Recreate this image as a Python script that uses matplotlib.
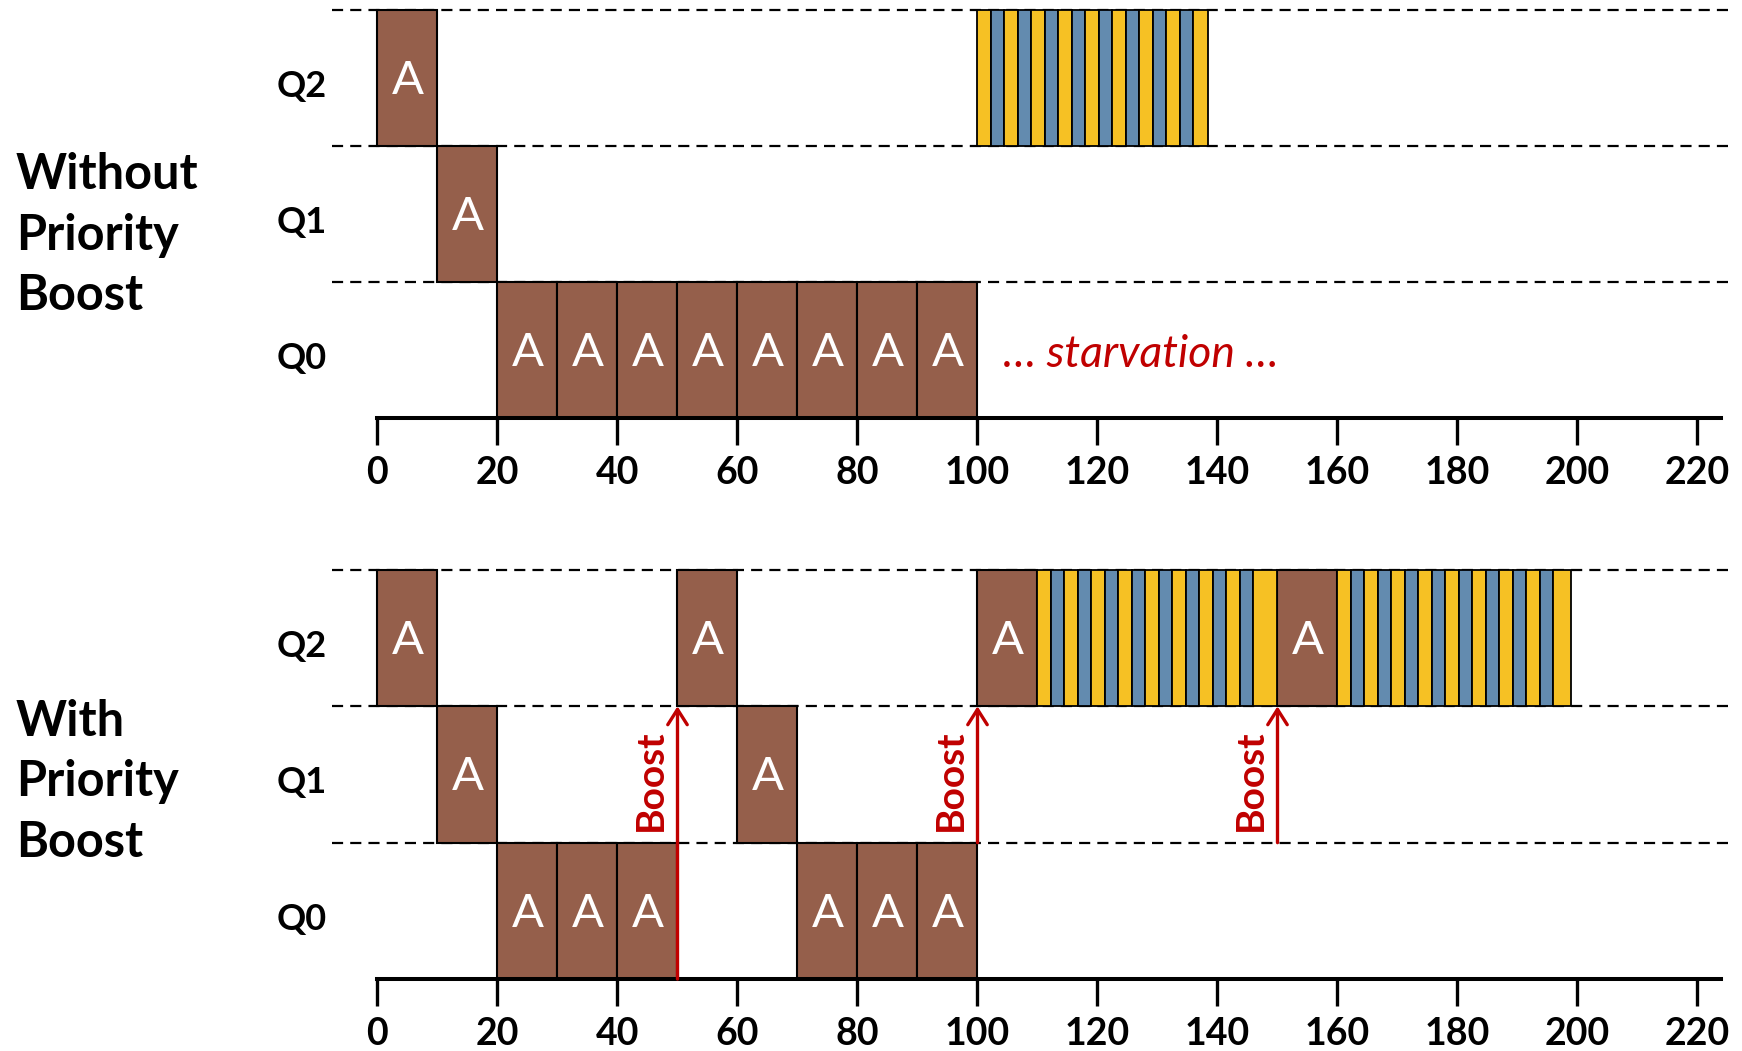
import matplotlib.pyplot as plt

# colours
BROWN = "#955F4B"
YELLOW = "#F6C124"
BLUE = "#638BAF"
RED = "#C00000"

plt.rcParams['font.family'] = ['Lato', 'DejaVu Sans']

queues = ["Q0", "Q1", "Q2"]
ticks = [0, 20, 40, 60, 80, 100, 120, 140, 160, 180, 200, 220]

# job A slices: (start, length, queue index)
top_a = [(0, 10, 2), (10, 10, 1),
         (20, 10, 0), (30, 10, 0), (40, 10, 0), (50, 10, 0),
         (60, 10, 0), (70, 10, 0), (80, 10, 0), (90, 10, 0)]
bottom_a = [(0, 10, 2), (10, 10, 1), (20, 10, 0), (30, 10, 0), (40, 10, 0),
            (50, 10, 2), (60, 10, 1), (70, 10, 0), (80, 10, 0), (90, 10, 0),
            (100, 10, 2), (150, 10, 2)]

# B/C interleaved slices (edges), all in Q2
top_bc = [[100, 102.3, 104.5, 106.8, 109, 111.3, 113.5, 115.8, 118, 120.3,
           122.5, 124.8, 127, 129.3, 131.5, 133.8, 136, 138.5]]
bottom_bc = [[110, 112.3, 114.5, 116.8, 119, 121.3, 123.5, 125.8, 128, 130.3,
              132.5, 134.8, 137, 139.3, 141.5, 143.8, 146, 150],
             [160, 162.3, 164.5, 166.8, 169, 171.3, 173.5, 175.8, 178, 180.3,
              182.5, 184.8, 187, 189.3, 191.5, 193.8, 196, 199]]

# boost arrows: (time, from row, to row)
boosts = [(50, 0, 2), (100, 1, 2), (150, 1, 2)]


def draw_panel(ax, slices_a, runs_bc):
    ax.set_xlim(-8, 226)
    ax.set_ylim(0, 3)
    # queue boundaries
    for y in [1, 2, 3]:
        ax.hlines(y, -7.5, 225.5, colors="black", linestyles=(0, (5, 3.2)),
                  linewidth=1.6, clip_on=False, zorder=1)
    for start, length, q in slices_a:
        ax.bar(start, 1, width=length, bottom=q, align="edge", color=BROWN,
               edgecolor="black", linewidth=1.5, zorder=2, clip_on=False)
        ax.text(start + length / 2, q + 0.48, "A", color="white", fontsize=34,
                ha="center", va="center", zorder=3)
    for edges in runs_bc:
        for i in range(len(edges) - 1):
            c = YELLOW if i % 2 == 0 else BLUE
            ax.bar(edges[i], 1, width=edges[i + 1] - edges[i], bottom=2,
                   align="edge", color=c, edgecolor="black", linewidth=1.3,
                   zorder=2, clip_on=False)
    for i, q in enumerate(queues):
        ax.text(-8.5, i + 0.44, q, fontsize=26, fontweight="bold",
                ha="right", va="center")

    for s in ["left", "top", "right"]:
        ax.spines[s].set_visible(False)
    ax.spines["bottom"].set_linewidth(2.9)
    ax.spines["bottom"].set_bounds(0, 224)
    ax.spines["bottom"].set_zorder(4)
    ax.set_yticks([])
    ax.set_xticks(ticks)
    ax.tick_params(axis="x", direction="out", length=19.5, width=2.4,
                   labelsize=27, pad=8)
    for lab in ax.get_xticklabels():
        lab.set_fontweight("bold")


fig = plt.figure(figsize=(17.42, 10.51), dpi=100)
ax1 = fig.add_axes([0.18915, 0.60228, 0.80597, 0.3882])
ax2 = fig.add_axes([0.18915, 0.0685, 0.80597, 0.3892])

draw_panel(ax1, top_a, top_bc)
draw_panel(ax2, bottom_a, bottom_bc)

ax1.text(104.2, 0.47, "… starvation …", color=RED, fontsize=32,
         style="italic", ha="left", va="center")

for t, y0, y1 in boosts:
    ax2.annotate("", xy=(t, y1), xytext=(t, y0),
                 arrowprops=dict(arrowstyle="->,head_length=0.55,head_width=0.35",
                                 color=RED, lw=2.4, mutation_scale=20,
                                 shrinkA=0, shrinkB=0), zorder=5)
    ax2.text(t - 4.6, 1.46, "Boost", color=RED, fontsize=28,
             fontweight="bold", rotation=90, ha="center", va="center")

fig.text(0.009, 0.776, "Without\nPriority\nBoost", fontsize=35,
         fontweight="bold", ha="left", va="center", linespacing=1.42)
fig.text(0.009, 0.256, "With\nPriority\nBoost", fontsize=35,
         fontweight="bold", ha="left", va="center", linespacing=1.42)

fig.savefig("out.png", dpi=100)
